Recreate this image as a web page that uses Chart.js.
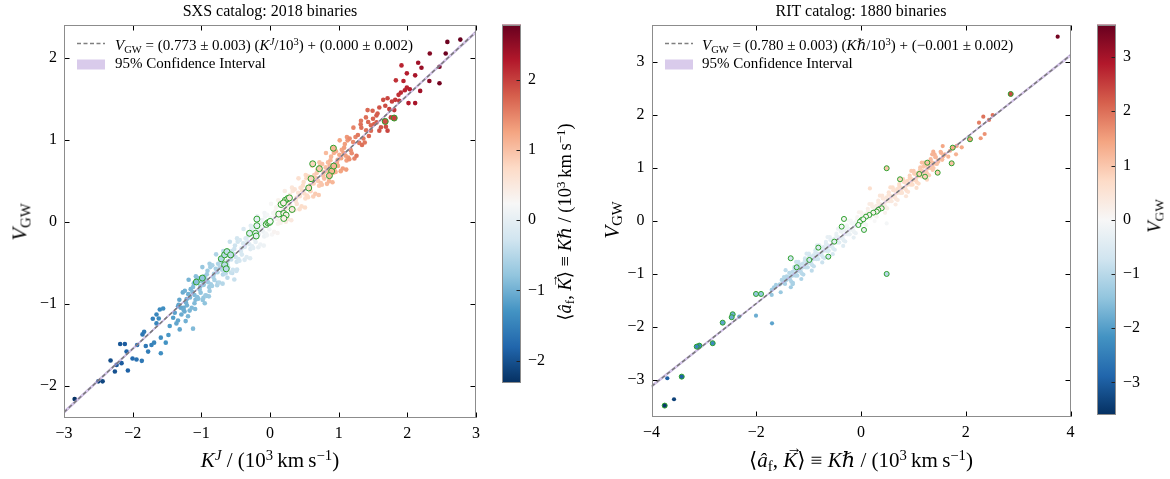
<!DOCTYPE html>
<html>
<head>
<meta charset="utf-8">
<script src="https://cdn.jsdelivr.net/npm/chart.js@4.4.1/dist/chart.umd.min.js"></script>
<style>
  body { margin: 0; width: 1170px; height: 479px; position: relative; overflow: hidden; background: #fff;
         font-family: "Liberation Serif", "DejaVu Serif", serif; color: #000; }
  canvas { position: absolute; top: 0; }
  .lbl { position: absolute; white-space: nowrap; line-height: 1; }
  .ctr { transform: translateX(-50%); }
  .rot { transform: translate(-50%, -50%) rotate(-90deg); }
  sub, sup { font-size: 0.7em; line-height: 0; }
  sub { vertical-align: -0.25em; }
  sup { vertical-align: 0.45em; }
  .vec { position: relative; display: inline-block; }
  .vec .arr { position: absolute; left: 0.22em; top: -0.62em; font-size: 0.75em; font-style: normal; line-height: 1; }
</style>
</head>
<body>
<canvas id="sxs" width="490" height="479" style="left:0"></canvas>
<canvas id="sxsBar" width="60" height="479" style="left:495px"></canvas>
<canvas id="rit" width="530" height="479" style="left:560px"></canvas>
<canvas id="ritBar" width="60" height="479" style="left:1090px"></canvas>

<div class="lbl ctr" style="left:270px; top:3px; font-size:16px">SXS catalog: 2018 binaries</div>
<div class="lbl ctr" style="left:861px; top:3px; font-size:16px">RIT catalog: 1880 binaries</div>

<div class="lbl" style="left:115px; top:38px; font-size:15px"><i>V</i><sub>GW</sub> = (0.773 ± 0.003) (<i>K</i><sup><i>J</i></sup>/10<sup>3</sup>) + (0.000 ± 0.002)</div>
<div class="lbl" style="left:115px; top:56px; font-size:15px">95% Confidence Interval</div>
<div class="lbl" style="left:702px; top:38px; font-size:15px"><i>V</i><sub>GW</sub> = (0.780 ± 0.003) (<i>K</i><i>ℏ</i>/10<sup>3</sup>) + (−0.001 ± 0.002)</div>
<div class="lbl" style="left:702px; top:56px; font-size:15px">95% Confidence Interval</div>

<div class="lbl rot" style="left:20px; top:222px; font-size:21px"><i>V</i><sub>GW</sub></div>
<div class="lbl ctr" style="left:270px; top:450px; font-size:21px"><i>K</i><sup><i>J</i></sup> / (10<sup>3</sup>&thinsp;km&thinsp;s<sup>−1</sup>)</div>
<div class="lbl rot" style="left:565px; top:222px; font-size:18.5px">⟨<i>â</i><sub>f</sub>, <span class="vec"><i>K</i><span class="arr">→</span></span>⟩ ≡ <i>K</i><i>ℏ</i> / (10<sup>3</sup>&thinsp;km&thinsp;s<sup>−1</sup>)</div>

<div class="lbl rot" style="left:612px; top:220px; font-size:21px"><i>V</i><sub>GW</sub></div>
<div class="lbl ctr" style="left:861px; top:450px; font-size:21px">⟨<i>â</i><sub>f</sub>, <span class="vec"><i>K</i><span class="arr">→</span></span>⟩ ≡ <i>K</i><i>ℏ</i> / (10<sup>3</sup>&thinsp;km&thinsp;s<sup>−1</sup>)</div>
<div class="lbl rot" style="left:1154px; top:216px; font-size:19px"><i>V</i><sub>GW</sub></div>

<script>
// ---- SXS panel: [K^J, V_GW, <a_f,K>] ----
const sxsTailLow = [
  [-2.845,-2.158,-2.3],[-2.50,-1.943,-2.15],[-2.438,-1.943,-2.1],[-2.322,-1.689,-2.05],[-2.259,-1.822,-2.0],
  [-2.234,-1.742,-1.95],[-2.162,-1.721,-1.9],[-2.07,-1.81,-1.85],[-2.182,-1.487,-1.95],[-2.114,-1.487,-1.9],
  [-2.089,-1.58,-1.85],[-2.002,-1.665,-1.75],[-1.944,-1.677,-1.7],[-1.867,-1.693,-1.6],[-1.935,-1.499,-1.7],
  [-1.857,-1.37,-1.65],[-1.833,-1.337,-1.6],[-1.809,-1.511,-1.6],[-1.726,-1.499,-1.5],[-1.688,-1.471,-1.45],
  [-1.775,-1.58,-1.55],[-1.59,-1.6,-1.35],[-1.707,-1.18,-1.5],[-1.653,-1.236,-1.45],[-1.62,-1.176,-1.4],
  [-1.653,-1.127,-1.45],[-1.59,-1.41,-1.35],[-1.518,-1.471,-1.3],[-1.605,-1.067,-1.4],[-1.556,-1.055,-1.35],
  [-1.479,-1.378,-1.25],[-1.46,-1.267,-1.2],[-1.41,-1.168,-1.2],[-1.387,-1.107,-1.15],[-1.363,-1.236,-1.1],
  [-1.339,-1.026,-1.15],[-1.29,-1.127,-1.05],[-1.257,-1.046,-1.05],[-1.228,-1.208,-1.0],[-1.315,-1.309,-1.1],
  [-1.194,-1.148,-0.95],[-1.121,-1.3,-0.9],[-1.05,-0.93,-0.85],[-0.98,-0.95,-0.8],[-0.92,-0.9,-0.75],
  [-0.88,-0.84,-0.7],[-1.1,-0.99,-0.9],[-0.95,-0.99,-0.8],[-0.76,-0.74,-0.6],[-0.62,-0.68,-0.45],
  [-0.55,-0.62,-0.4],[-0.48,-0.58,-0.3],[-0.52,-0.7,-0.35]
];
const sxsCore = [
  [-1.34,-1.201,-1.1],[-1.32,-0.947,-1.1],[-1.30,-1.044,-1.1],[-1.26,-1.069,-1.05],[-1.33,-1.009,-1.1],[-1.27,-0.858,-1.05],
  [-1.24,-0.838,-1.0],[-1.21,-1.016,-1.0],[-1.19,-0.879,-1.0],[-1.17,-1.08,-0.95],[-1.155,-0.818,-0.95],[-1.225,-0.979,-1.0],[-1.185,-0.704,-0.95],[-1.245,-1.09,-1.05],[-1.215,-0.94,-1.0],[-1.165,-0.921,-0.95],
  [-1.14,-1.046,-0.9],[-1.12,-0.792,-0.9],[-1.10,-0.889,-0.9],[-1.08,-0.662,-0.85],[-1.06,-0.914,-0.85],[-1.13,-0.854,-0.9],[-1.09,-1.06,-0.9],[-1.07,-0.703,-0.85],[-1.085,-0.948,-0.9],[-1.11,-0.748,-0.9],
  [-1.04,-0.683,-0.8],[-1.01,-0.861,-0.8],[-0.99,-0.724,-0.8],[-0.97,-0.925,-0.75],[-0.955,-0.663,-0.75],[-1.025,-0.824,-0.8],[-0.985,-0.549,-0.75],[-1.045,-0.935,-0.85],[-1.015,-0.785,-0.8],[-0.965,-0.766,-0.75],
  [-0.94,-0.892,-0.7],[-0.92,-0.638,-0.7],[-0.90,-0.735,-0.7],[-0.88,-0.508,-0.65],[-0.86,-0.76,-0.65],[-0.93,-0.70,-0.7],[-0.89,-0.906,-0.7],[-0.87,-0.549,-0.65],[-0.885,-0.794,-0.7],[-0.91,-0.594,-0.7],
  [-0.84,-0.528,-0.6],[-0.81,-0.706,-0.6],[-0.79,-0.569,-0.6],[-0.77,-0.77,-0.55],[-0.755,-0.508,-0.55],[-0.825,-0.669,-0.6],[-0.785,-0.394,-0.55],[-0.845,-0.78,-0.65],[-0.815,-0.63,-0.6],[-0.765,-0.611,-0.55],
  [-0.74,-0.737,-0.5],[-0.72,-0.483,-0.5],[-0.70,-0.58,-0.5],[-0.68,-0.353,-0.45],[-0.66,-0.605,-0.45],[-0.73,-0.545,-0.5],[-0.69,-0.751,-0.5],[-0.67,-0.394,-0.45],[-0.685,-0.639,-0.5],[-0.71,-0.439,-0.5],
  [-0.64,-0.374,-0.4],[-0.61,-0.552,-0.4],[-0.59,-0.415,-0.4],[-0.57,-0.616,-0.35],[-0.555,-0.354,-0.35],[-0.625,-0.515,-0.4],[-0.585,-0.24,-0.35],[-0.645,-0.626,-0.45],[-0.615,-0.476,-0.4],[-0.565,-0.457,-0.35],
  [-0.54,-0.583,-0.3],[-0.52,-0.329,-0.3],[-0.50,-0.426,-0.3],[-0.48,-0.199,-0.25],[-0.46,-0.451,-0.25],[-0.53,-0.391,-0.3],[-0.49,-0.597,-0.3],[-0.47,-0.24,-0.25],[-0.485,-0.485,-0.3],[-0.51,-0.285,-0.3],
  [-0.44,-0.219,-0.2],[-0.41,-0.397,-0.2],[-0.39,-0.26,-0.2],[-0.37,-0.461,-0.15],[-0.355,-0.199,-0.15],[-0.425,-0.36,-0.2],[-0.385,-0.085,-0.15],[-0.445,-0.471,-0.25],[-0.415,-0.321,-0.2],[-0.365,-0.302,-0.15],
  [-0.34,-0.428,-0.1],[-0.32,-0.174,-0.1],[-0.30,-0.271,-0.1],[-0.28,-0.044,-0.05],[-0.26,-0.296,-0.05],[-0.33,-0.236,-0.1],[-0.29,-0.442,-0.1],[-0.27,-0.085,-0.05],[-0.285,-0.33,-0.1],[-0.31,-0.13,-0.1],
  [-0.24,-0.065,0],[-0.21,-0.243,0],[-0.19,-0.106,0],[-0.17,-0.307,0.05],[-0.155,-0.045,0.05],[-0.225,-0.206,0],[-0.185,0.069,0.05],[-0.245,-0.317,-0.05],[-0.215,-0.167,0],[-0.165,-0.148,0.05],
  [-0.14,-0.273,0.1],[-0.12,-0.019,0.1],[-0.10,-0.116,0.1],[-0.08,0.111,0.15],[-0.06,-0.141,0.15],[-0.13,-0.081,0.1],[-0.09,-0.287,0.1],[-0.07,0.07,0.15],[-0.085,-0.175,0.1],[-0.11,0.025,0.1],
  [-0.04,0.09,0.2],[-0.01,-0.088,0.2],[0.01,0.049,0.2],[0.03,-0.152,0.25],[0.045,0.11,0.25],[-0.025,-0.051,0.2],[0.015,0.224,0.25],[-0.045,-0.162,0.15],[-0.015,-0.012,0.2],[0.035,0.007,0.25],
  [0.06,-0.119,0.3],[0.08,0.135,0.3],[0.10,0.038,0.3],[0.12,0.265,0.35],[0.14,0.013,0.35],[0.07,0.073,0.3],[0.11,-0.133,0.3],[0.13,0.224,0.35],[0.115,-0.021,0.3],[0.09,0.179,0.3],
  [0.16,0.245,0.4],[0.19,0.067,0.4],[0.21,0.204,0.4],[0.23,0.003,0.45],[0.245,0.265,0.45],[0.175,0.104,0.4],[0.215,0.379,0.45],[0.155,-0.007,0.35],[0.185,0.143,0.4],[0.235,0.162,0.45],
  [0.26,0.036,0.5],[0.28,0.29,0.5],[0.30,0.193,0.5],[0.32,0.42,0.55],[0.34,0.168,0.55],[0.27,0.228,0.5],[0.31,0.022,0.5],[0.33,0.379,0.55],[0.315,0.134,0.5],[0.29,0.334,0.5],
  [0.36,0.399,0.6],[0.39,0.221,0.6],[0.41,0.358,0.6],[0.43,0.157,0.65],[0.445,0.419,0.65],[0.375,0.258,0.6],[0.415,0.533,0.65],[0.355,0.147,0.55],[0.385,0.297,0.6],[0.435,0.316,0.65],
  [0.46,0.191,0.7],[0.48,0.445,0.7],[0.50,0.348,0.7],[0.52,0.575,0.75],[0.54,0.323,0.75],[0.47,0.383,0.7],[0.51,0.177,0.7],[0.53,0.534,0.75],[0.515,0.289,0.7],[0.49,0.489,0.7],
  [0.56,0.554,0.8],[0.59,0.376,0.8],[0.61,0.513,0.8],[0.63,0.312,0.85],[0.645,0.574,0.85],[0.575,0.413,0.8],[0.615,0.688,0.85],[0.555,0.302,0.75],[0.585,0.452,0.8],[0.635,0.471,0.85],
  [0.66,0.345,0.9],[0.68,0.599,0.9],[0.70,0.502,0.9],[0.72,0.729,0.95],[0.74,0.477,0.95],[0.67,0.537,0.9],[0.71,0.331,0.9],[0.73,0.688,0.95],[0.715,0.443,0.9],[0.69,0.643,0.9],
  [0.76,0.708,1.0],[0.79,0.53,1.0],[0.81,0.667,1.0],[0.83,0.466,1.05],[0.845,0.728,1.05],[0.775,0.567,1.0],[0.815,0.842,1.05],[0.755,0.456,0.95],[0.785,0.606,1.0],[0.835,0.625,1.05],
  [0.86,0.50,1.1],[0.88,0.754,1.1],[0.90,0.657,1.1],[0.92,0.884,1.15],[0.94,0.632,1.15],[0.87,0.692,1.1],[0.91,0.486,1.1],[0.93,0.843,1.15],[0.915,0.598,1.1],[0.89,0.798,1.1],
  [0.96,0.863,1.2],[0.99,0.685,1.2],[1.01,0.822,1.2],[1.03,0.621,1.25],[1.045,0.883,1.25],[0.975,0.722,1.2],[1.015,0.997,1.25],[0.955,0.611,1.15],[0.985,0.761,1.2],[1.035,0.78,1.25],
  [1.06,0.654,1.3],[1.08,0.908,1.3],[1.10,0.811,1.3],[1.12,1.038,1.35],[1.14,0.786,1.35],[1.07,0.846,1.3],[1.11,0.64,1.3],[1.13,0.997,1.35],[1.115,0.752,1.3],[1.09,0.952,1.3],
  [1.16,1.018,1.45],[1.19,0.84,1.45],[1.21,0.977,1.45],[1.23,0.776,1.5],[1.245,1.038,1.5],[1.175,0.877,1.45],[1.215,1.152,1.5],[1.155,0.766,1.4],
  [1.26,0.809,1.6],[1.28,1.063,1.6],[1.30,0.966,1.6],[1.32,1.193,1.65],[1.34,0.941,1.65],[1.33,1.152,1.65]
];
const sxsTailHigh = [
  [1.36,1.02,1.6],[1.40,1.12,1.65],[1.44,1.05,1.7],[1.38,0.97,1.6],[1.47,1.18,1.7],[1.50,1.26,1.75],[1.43,1.22,1.7],[1.55,1.30,1.8],
  [1.421,1.366,1.7],[1.494,1.358,1.75],[1.566,1.325,1.8],[1.552,1.216,1.8],[1.663,1.236,1.9],[1.688,1.164,1.9],[1.760,1.277,2.0],
  [1.616,1.156,1.85],[1.518,1.196,1.75],[1.470,1.115,1.7],[1.592,1.115,1.85],[1.712,1.115,1.95],[1.325,1.236,1.6],[1.397,1.277,1.65],
  [1.649,1.491,1.9],[1.712,1.511,1.95],[1.679,1.418,1.9],[1.592,1.398,1.85],[1.737,1.378,2.0],[1.810,1.366,2.05],
  [1.906,1.579,2.15],[1.872,1.552,2.1],[1.824,1.491,2.05],[1.776,1.471,2.0],[1.882,1.479,2.1],[2.017,1.451,2.25],[2.114,1.451,2.35],
  [1.964,1.608,2.2],[2.037,1.62,2.25],[1.993,1.64,2.2],[2.187,1.6,2.4],[1.833,1.729,2.1],[1.944,1.721,2.2],[1.993,1.814,2.25],
  [2.114,1.79,2.35],[1.915,1.911,2.2],[2.158,1.943,2.4],[2.206,1.883,2.45],[2.468,1.895,2.7],[2.468,1.693,2.7],[2.321,1.721,2.55],
  [2.327,2.056,2.6],[2.559,2.056,2.75],[2.583,2.198,2.75],[2.772,2.226,2.79]
];
// binaries circled in green
const sxsMarked = [
  [-1.072,-0.731,-0.85],[-0.985,-0.683,-0.8],[-0.709,-0.448,-0.5],[-0.661,-0.4,-0.45],[-0.627,-0.36,-0.4],[-0.574,-0.4,-0.4],
  [-0.661,-0.521,-0.45],[-0.637,-0.57,-0.45],[-0.298,-0.137,-0.1],[-0.211,-0.137,0],[-0.201,-0.17,0],[-0.191,-0.044,0],
  [-0.191,0.036,0],[-0.055,-0.028,0.15],[-0.031,-0.008,0.15],[-0.007,-0.004,0.2],[0.003,0.008,0.2],[0.128,0.097,0.3],
  [0.201,0.105,0.4],[0.235,0.085,0.4],[0.201,0.044,0.4],[0.162,0.214,0.35],[0.225,0.267,0.4],[0.259,0.287,0.45],
  [0.283,0.295,0.5],[0.322,0.154,0.5],[0.196,0.234,0.4],[0.564,0.416,0.75],[0.598,0.529,0.8],[0.622,0.711,0.8],
  [0.719,0.651,0.9],[0.898,0.622,1.1],[0.865,0.566,1.05],[0.928,0.683,1.1],[0.923,0.901,1.1],[1.678,1.228,1.9],[1.809,1.269,2.0]
];
const sxsFitX = [-3, 3];
const sxsFitY = [-2.319, 2.319];
const sxsBandX = [-3, -1.5, 0, 1.5, 3];
const sxsBandLo = [-2.337, -1.169, -0.004, 1.150, 2.301];
const sxsBandHi = [-2.301, -1.150, 0.004, 1.169, 2.337];
const sxsXTicks = [-3, -2, -1, 0, 1, 2, 3];
const sxsYTicks = [-2, -1, 0, 1, 2];
const sxsCbTicks = [-2, -1, 0, 1, 2];
const sxsCbRange = [-2.32, 2.79];

// ---- RIT panel: [<a_f,K>, V_GW], coloured by V_GW ----
const ritPoints = [
  [-3.57,-3.365],[-3.698,-2.969],[-2.324,-1.807],[-2.005,-1.789],[-1.699,-1.933],[-1.705,-1.399],[-1.705,-1.304],
  [-1.661,-1.254],[-1.623,-1.21],[-1.533,-1.348],[-1.514,-1.116],[-1.451,-1.116],[-1.304,-1.197],[-1.388,-1.065],
  [-1.55,-1.2],[-1.48,-1.17],[-1.42,-1.05],
  [-1.33,-1.151],[-1.31,-0.965],[-1.29,-1.029],[-1.27,-0.867],[-1.30,-1.171],
  [-1.235,-0.933],[-1.215,-1.035],[-1.185,-0.827],[-1.165,-0.953],[-1.195,-0.776],
  [-1.13,-0.995],[-1.11,-0.809],[-1.09,-0.873],[-1.07,-0.711],[-1.10,-1.015],
  [-1.035,-0.777],[-1.015,-0.879],[-0.985,-0.671],[-0.965,-0.797],[-0.995,-0.62],
  [-0.93,-0.839],[-0.91,-0.653],[-0.89,-0.717],[-0.87,-0.555],[-0.90,-0.859],
  [-0.835,-0.621],[-0.815,-0.723],[-0.785,-0.515],[-0.765,-0.641],[-0.795,-0.464],
  [-0.73,-0.683],[-0.71,-0.497],[-0.69,-0.561],[-0.67,-0.399],[-0.70,-0.703],
  [-0.635,-0.465],[-0.615,-0.567],[-0.585,-0.359],[-0.565,-0.485],[-0.595,-0.308],
  [-0.53,-0.527],[-0.51,-0.341],[-0.49,-0.405],[-0.47,-0.243],[-0.50,-0.547],
  [-0.435,-0.309],[-0.415,-0.411],[-0.385,-0.203],[-0.365,-0.329],[-0.395,-0.152],
  [-0.33,-0.371],[-0.31,-0.185],[-0.29,-0.249],[-0.27,-0.087],[-0.30,-0.391],
  [-0.235,-0.153],[-0.215,-0.255],[-0.185,-0.047],[-0.165,-0.173],[-0.195,0.004],
  [-0.13,-0.215],[-0.11,-0.029],[-0.09,-0.093],[-0.07,0.069],[-0.10,-0.235],
  [-0.035,0.003],[-0.015,-0.099],[0.015,0.109],[0.035,-0.017],[0.005,0.16],
  [0.07,-0.059],[0.09,0.127],[0.11,0.063],[0.13,0.225],[0.10,-0.079],
  [0.165,0.159],[0.185,0.057],[0.215,0.265],[0.235,0.139],[0.205,0.316],
  [0.27,0.097],[0.29,0.283],[0.31,0.219],[0.33,0.381],[0.30,0.077],
  [0.365,0.315],[0.385,0.213],[0.415,0.421],[0.435,0.295],[0.405,0.472],
  [0.47,0.253],[0.49,0.439],[0.51,0.375],[0.53,0.537],[0.50,0.233],
  [0.565,0.471],[0.585,0.369],[0.615,0.577],[0.635,0.451],[0.605,0.628],
  [0.67,0.409],[0.69,0.595],[0.71,0.531],[0.73,0.693],[0.70,0.389],
  [0.765,0.627],[0.785,0.525],[0.815,0.733],[0.835,0.607],[0.805,0.784],
  [0.87,0.565],[0.89,0.751],[0.91,0.687],[0.93,0.849],[0.90,0.545],
  [0.965,0.783],[0.985,0.681],[1.015,0.889],[1.035,0.763],[1.005,0.94],
  [1.07,0.721],[1.09,0.907],[1.11,0.843],[1.13,1.005],[1.10,0.701],
  [1.165,0.939],[1.185,0.837],[1.215,1.045],[1.235,0.919],[1.205,1.096],
  [1.27,0.877],[1.29,1.063],[1.31,0.999],[1.33,1.161],[1.30,0.857],
  [1.365,1.095],[1.385,0.993],[1.415,1.201],[1.435,1.075],[1.405,1.252],
  [0.17,0.61],[0.49,-0.05],[1.55,1.16],[1.6,1.25],[1.52,1.3],[1.7,1.32],
  [2.335,1.962],[2.514,1.994],[2.444,1.9],[2.253,1.849],[2.361,1.636],[2.285,1.555],[1.827,1.41],[1.923,1.385],
  [1.814,1.253],[1.667,1.208],[1.476,1.114],[1.317,1.02],[1.19,1.02],[1.369,0.958],[1.38,1.303],[3.755,3.471]
];
const ritCore = [
  [-1.47,-1.062],[-1.45,-1.192],[-1.43,-1.122],[-1.44,-0.932],
  [-1.37,-0.984],[-1.35,-1.114],[-1.33,-1.044],[-1.34,-1.254],
  [-1.27,-0.906],[-1.25,-1.036],[-1.23,-0.966],[-1.24,-0.776],
  [-1.17,-0.828],[-1.15,-0.958],[-1.13,-0.888],[-1.14,-1.098],
  [-1.07,-0.75],[-1.05,-0.88],[-1.03,-0.81],[-1.04,-0.62],
  [-0.97,-0.672],[-0.95,-0.802],[-0.93,-0.732],[-0.94,-0.942],
  [-0.87,-0.594],[-0.85,-0.724],[-0.83,-0.654],[-0.84,-0.464],
  [-0.77,-0.516],[-0.75,-0.646],[-0.73,-0.576],[-0.74,-0.786],
  [-0.67,-0.438],[-0.65,-0.568],[-0.63,-0.498],[-0.64,-0.308],
  [-0.57,-0.36],[-0.55,-0.49],[-0.53,-0.42],[-0.54,-0.63],
  [-0.47,-0.282],[-0.45,-0.412],[-0.43,-0.342],[-0.44,-0.152],
  [-0.37,-0.204],[-0.35,-0.334],[-0.33,-0.264],[-0.34,-0.474],
  [-0.27,-0.126],[-0.25,-0.256],[-0.23,-0.186],[-0.24,0.004],
  [-0.17,-0.048],[-0.15,-0.178],[-0.13,-0.108],[-0.14,-0.318],
  [-0.07,0.03],[-0.05,-0.1],[-0.03,-0.03],[-0.04,0.16],
  [0.03,0.108],[0.05,-0.022],[0.07,0.048],[0.06,-0.162],
  [0.13,0.186],[0.15,0.056],[0.17,0.126],[0.16,0.316],
  [0.23,0.264],[0.25,0.134],[0.27,0.204],[0.26,-0.006],
  [0.33,0.342],[0.35,0.212],[0.37,0.282],[0.36,0.472],
  [0.43,0.42],[0.45,0.29],[0.47,0.36],[0.46,0.15],
  [0.53,0.498],[0.55,0.368],[0.57,0.438],[0.56,0.628],
  [0.63,0.576],[0.65,0.446],[0.67,0.516],[0.66,0.306],
  [0.73,0.654],[0.75,0.524],[0.77,0.594],[0.76,0.784],
  [0.83,0.732],[0.85,0.602],[0.87,0.672],[0.86,0.462],
  [0.93,0.81],[0.95,0.68],[0.97,0.75],[0.96,0.94],
  [1.03,0.888],[1.05,0.758],[1.07,0.828],[1.06,0.618],
  [1.13,0.966],[1.15,0.836],[1.17,0.906],[1.16,1.096],
  [1.23,1.044],[1.25,0.914],[1.27,0.984],[1.26,0.774],
  [1.33,1.122],[1.35,0.992],[1.37,1.062],[1.36,1.252],
  [1.43,1.2],[1.45,1.07],[1.47,1.14],[1.46,0.93],
  [1.53,1.278],[1.55,1.148],[1.57,1.218],[1.56,1.408]
];
const ritMarked = [
  [2.858,2.39],[2.081,1.536],[1.751,1.378],[1.731,1.083],[1.464,0.906],[1.266,1.095],[1.222,0.831],[1.113,0.882],
  [0.745,0.782],[0.49,0.99],[0.49,-1.003],[0.395,0.236],[0.331,0.204],[0.3,0.172],[0.235,0.153],[0.159,0.109],
  [0.095,0.077],[0.013,0.015],[-0.019,-0.017],[-0.051,-0.079],[0.057,-0.173],[0.044,0.028],[-0.325,0.034],
  [-0.369,-0.111],[-0.51,-0.394],[-0.624,-0.677],[-0.815,-0.507],[-0.987,-0.739],[-1.228,-0.877],[-1.342,-0.707],
  [-1.909,-1.38],[-2.005,-1.38],[-2.45,-1.763],[-2.469,-1.819],[-2.641,-1.921],[-2.832,-2.309],[-3.087,-2.354],
  [-3.137,-2.373],[-3.423,-2.939],[-3.748,-3.485]
];
const ritFitX = [-4, 4];
const ritFitY = [-3.121, 3.119];
const ritBandX = [-4, -2, 0, 2, 4];
const ritBandLo = [-3.145, -1.573, -0.005, 1.547, 3.095];
const ritBandHi = [-3.097, -1.549, 0.003, 1.571, 3.143];
const ritXTicks = [-4, -2, 0, 2, 4];
const ritYTicks = [-3, -2, -1, 0, 1, 2, 3];
const ritCbTicks = [-3, -2, -1, 0, 1, 2, 3];
const ritCbRange = [-3.6, 3.6];

// ---- colormap (matplotlib RdBu_r) ----
const RDBU_R = ['#053061', '#2166ac', '#4393c3', '#92c5de', '#d1e5f0', '#f7f7f7',
                '#fddbc7', '#f4a582', '#d6604d', '#b2182b', '#67001f'];
const RDBU_RGB = RDBU_R.map(h => [1, 3, 5].map(i => parseInt(h.slice(i, i + 2), 16)));

function cmap(v, range) {
    let t = (v - range[0]) / (range[1] - range[0]);
    t = Math.max(0, Math.min(1, t));
    const s = t * 10;
    const i = Math.min(9, Math.floor(s));
    const f = s - i;
    const a = RDBU_RGB[i], b = RDBU_RGB[i + 1];
    return `rgb(${[0, 1, 2].map(k => Math.round(a[k] + (b[k] - a[k]) * f)).join(',')})`;
}

const FONT = '"Liberation Serif", "DejaVu Serif", serif';
const minus = v => String(v).replace('-', '\u2212');
const xy = (xs, ys) => xs.map((x, i) => ({ x, y: ys[i] }));
const BAND = 'rgba(186, 160, 218, 0.55)';

// inward ticks on all four sides, grey frame, legend swatches
const axesDecor = {
    id: 'axesDecor',
    afterDraw(chart) {
        const { ctx, chartArea: a, scales } = chart;
        const L = Math.round(a.left) + 0.5, R = Math.round(a.right) - 0.5;
        const T = Math.round(a.top) + 0.5, B = Math.round(a.bottom) - 0.5;
        ctx.save();
        ctx.strokeStyle = '#000';
        ctx.lineWidth = 1;
        ctx.beginPath();
        scales.x.ticks.forEach(t => {
            const p = Math.round(scales.x.getPixelForValue(t.value)) + 0.5;
            ctx.moveTo(p, B); ctx.lineTo(p, B - 5);
            ctx.moveTo(p, T); ctx.lineTo(p, T + 5);
        });
        scales.y.ticks.forEach(t => {
            const p = Math.round(scales.y.getPixelForValue(t.value)) + 0.5;
            ctx.moveTo(L, p); ctx.lineTo(L + 5, p);
            ctx.moveTo(R, p); ctx.lineTo(R - 5, p);
        });
        ctx.stroke();
        ctx.strokeStyle = '#8c8c8c';
        ctx.strokeRect(L, T, R - L, B - T);

        // legend: dashed fit sample + CI patch
        const lx = Math.round(a.left) + 13;
        ctx.strokeStyle = '#7f7f7f';
        ctx.lineWidth = 1.5;
        ctx.setLineDash([4, 2.5]);
        ctx.beginPath();
        ctx.moveTo(lx, a.top + 19); ctx.lineTo(lx + 28, a.top + 19);
        ctx.stroke();
        ctx.setLineDash([]);
        ctx.fillStyle = BAND;
        ctx.fillRect(lx, a.top + 35, 28, 10);
        ctx.restore();
    }
};

function scatterChart(id, cfg) {
    const tickFont = { family: FONT, size: 16 };
    const dots = cfg.points.map(p => ({ x: p[0], y: p[1] }));
    const marked = cfg.marked.map(p => ({ x: p[0], y: p[1] }));
    return new Chart(document.getElementById(id), {
        type: 'scatter',
        data: {
            datasets: [
                {
                    data: marked, order: 0,
                    pointRadius: cfg.markR, pointBorderWidth: 1, pointBorderColor: '#2ca02c',
                    pointBackgroundColor: cfg.marked.map(p => cmap(p[2], cfg.range))
                },
                {
                    type: 'line', data: xy(cfg.fitX, cfg.fitY), order: 1,
                    borderColor: '#7a7a7a', borderWidth: 1.5, borderDash: [4, 2.5],
                    pointRadius: 0, fill: false
                },
                {
                    type: 'line', data: xy(cfg.bandX, cfg.bandLo), order: 2,
                    borderColor: BAND, borderWidth: 1, pointRadius: 0, fill: false
                },
                {
                    type: 'line', data: xy(cfg.bandX, cfg.bandHi), order: 2,
                    borderColor: BAND, borderWidth: 1, pointRadius: 0,
                    backgroundColor: BAND, fill: '-1'
                },
                {
                    data: dots, order: 3,
                    pointRadius: cfg.dotR, pointBorderWidth: 0,
                    pointBackgroundColor: cfg.points.map(p => cmap(p[2], cfg.range))
                }
            ]
        },
        options: {
            responsive: false,
            animation: false,
            events: [],
            layout: { padding: cfg.padding },
            plugins: { legend: { display: false }, tooltip: { enabled: false } },
            scales: {
                x: {
                    type: 'linear', min: cfg.xMin, max: cfg.xMax,
                    afterBuildTicks: s => { s.ticks = cfg.xTicks.map(v => ({ value: v })); },
                    afterFit: s => { s.height = cfg.xHeight; },
                    grid: { display: false, drawTicks: false },
                    border: { display: false },
                    ticks: { font: tickFont, color: '#000', padding: 6, maxRotation: 0, autoSkip: false, callback: minus }
                },
                y: {
                    type: 'linear', min: cfg.yMin, max: cfg.yMax,
                    afterBuildTicks: s => { s.ticks = cfg.yTicks.map(v => ({ value: v })); },
                    afterFit: s => { s.width = cfg.yWidth; },
                    grid: { display: false, drawTicks: false },
                    border: { display: false },
                    ticks: { font: tickFont, color: '#000', padding: 7, autoSkip: false, callback: minus }
                }
            }
        },
        plugins: [axesDecor]
    });
}

// colorbar: one floating bar spanning the colour range, filled with the map
const barDecor = {
    id: 'barDecor',
    afterDraw(chart) {
        const { ctx, chartArea: a, scales } = chart;
        const L = Math.round(a.left) + 0.5, R = Math.round(a.right) - 0.5;
        const T = Math.round(a.top) + 0.5, B = Math.round(a.bottom) - 0.5;
        ctx.save();
        ctx.strokeStyle = '#222';
        ctx.lineWidth = 1;
        ctx.beginPath();
        scales.y.ticks.forEach(t => {
            const p = Math.round(scales.y.getPixelForValue(t.value)) + 0.5;
            ctx.moveTo(R, p); ctx.lineTo(R - 4, p);
        });
        ctx.stroke();
        ctx.strokeStyle = '#8c8c8c';
        ctx.strokeRect(L, T, R - L, B - T);
        ctx.restore();
    }
};

function colorbar(id, range, ticks, bottomPad) {
    return new Chart(document.getElementById(id), {
        type: 'bar',
        data: {
            labels: [''],
            datasets: [{
                data: [range],
                barPercentage: 1, categoryPercentage: 1, borderWidth: 0, borderSkipped: false,
                backgroundColor: ctx => {
                    const a = ctx.chart.chartArea;
                    if (!a) return '#f7f7f7';
                    const g = ctx.chart.ctx.createLinearGradient(0, a.bottom, 0, a.top);
                    RDBU_R.forEach((c, i) => g.addColorStop(i / 10, c));
                    return g;
                }
            }]
        },
        options: {
            responsive: false,
            animation: false,
            events: [],
            layout: { padding: { left: 7, top: 24.5, right: 0, bottom: bottomPad } },
            plugins: { legend: { display: false }, tooltip: { enabled: false } },
            scales: {
                x: { display: false },
                y: {
                    position: 'right', min: range[0], max: range[1],
                    afterBuildTicks: s => { s.ticks = ticks.map(v => ({ value: v })); },
                    afterFit: s => { s.width = 34; },
                    grid: { display: false, drawTicks: false },
                    border: { display: false },
                    ticks: { font: { family: FONT, size: 16 }, color: '#000', padding: 7, autoSkip: false, callback: minus }
                }
            }
        },
        plugins: [barDecor]
    });
}

function drawAll() {
    scatterChart('sxs', {
        points: [...sxsTailLow, ...sxsCore, ...sxsTailHigh], marked: sxsMarked, range: sxsCbRange,
        fitX: sxsFitX, fitY: sxsFitY, bandX: sxsBandX, bandLo: sxsBandLo, bandHi: sxsBandHi,
        xMin: -3, xMax: 3, yMin: -2.39, yMax: 2.41, xTicks: sxsXTicks, yTicks: sxsYTicks,
        dotR: 2.3, markR: 3,
        padding: { left: 0, top: 24.5, right: 14, bottom: 0 }, xHeight: 61, yWidth: 64
    });
    colorbar('sxsBar', sxsCbRange, sxsCbTicks, 96);

    scatterChart('rit', {
        points: [...ritPoints, ...ritCore].map(p => [p[0], p[1], p[1]]),
        marked: ritMarked.map(p => [p[0], p[1], p[1]]),
        range: ritCbRange,
        fitX: ritFitX, fitY: ritFitY, bandX: ritBandX, bandLo: ritBandLo, bandHi: ritBandHi,
        xMin: -4, xMax: 4, yMin: -3.7, yMax: 3.7, xTicks: ritXTicks, yTicks: ritYTicks,
        dotR: 2.1, markR: 2.5,
        padding: { left: 0, top: 24.5, right: 19.5, bottom: 0 }, xHeight: 62, yWidth: 91.5
    });
    colorbar('ritBar', ritCbRange, ritCbTicks, 64);
}

document.fonts.load('16px "Liberation Serif"').then(drawAll, drawAll);
</script>
</body>
</html>
